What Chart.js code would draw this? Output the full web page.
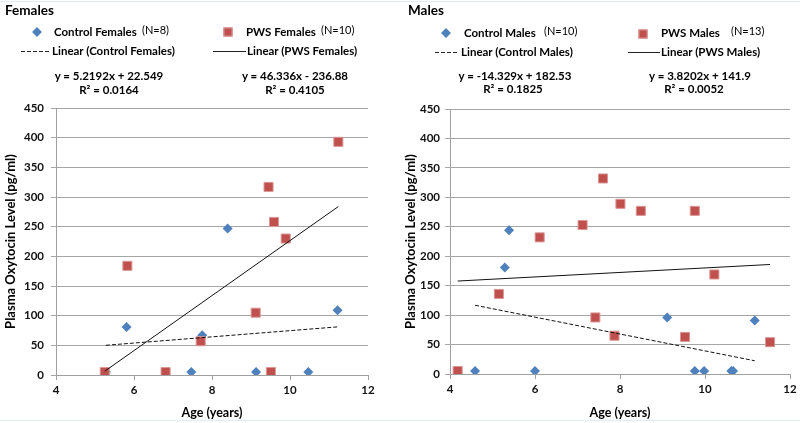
<!DOCTYPE html>
<html><head><meta charset="utf-8">
<script src="https://cdn.jsdelivr.net/npm/chart.js@4"></script>
<style>
html,body{margin:0;padding:0;background:#fff;}
#wrap{position:relative;width:800px;height:423px;overflow:hidden;font-family:Lato,"Open Sans",sans-serif;color:#000;}
.panel{position:absolute;top:0;width:400px;height:423px;}
.panel canvas{position:absolute;left:0;top:0;}
.t{position:absolute;white-space:nowrap;font-weight:bold;font-size:11.5px;line-height:14px;transform:translateY(-50%);}
.e{font-size:11.5px;}
.c{transform:translate(-50%,-50%);}
.n{font-weight:normal;font-size:11px;}
.ttl{font-size:13.5px;}
.dia{position:absolute;width:7px;height:7px;background:#4f81bd;transform:translate(-50%,-50%) rotate(45deg);}
.sq{position:absolute;width:9px;height:9px;background:#c0504d;transform:translate(-50%,-50%);box-sizing:border-box;border:1px solid #d99694;}
.dash{position:absolute;height:1px;background:repeating-linear-gradient(90deg,#222 0 4px,transparent 4px 6px);}
.solid{position:absolute;height:1px;background:#222;}
.bl{position:absolute;left:0;width:800px;height:1px;background:#e3eaf3;}
</style></head>
<body>
<div id="wrap">
  <div class="bl" style="top:1px"></div>
  <div class="bl" style="top:420px"></div>
  <div class="panel" style="left:0"><canvas id="cf" width="400" height="423"></canvas></div>
  <div class="panel" style="left:400px"><canvas id="cm" width="400" height="423"></canvas></div>

  <!-- Females annotations -->
  <div class="t ttl" style="left:5px;top:10px">Females</div>
  <div class="dia" style="left:37px;top:32px"></div>
  <div class="t" style="left:54px;top:32px">Control Females</div>
  <div class="t n" style="left:142px;top:30px">(N=8)</div>
  <div class="sq" style="left:228px;top:32px"></div>
  <div class="t" style="left:246px;top:32px">PWS Females</div>
  <div class="t n" style="left:321px;top:30px">(N=10)</div>
  <div class="dash" style="left:21px;top:51px;width:28px"></div>
  <div class="t" style="left:52px;top:51px">Linear (Control Females)</div>
  <div class="solid" style="left:213px;top:51px;width:33px"></div>
  <div class="t" style="left:247px;top:51px">Linear (PWS Females)</div>
  <div class="t e c" style="left:109px;top:76px">y = 5.2192x + 22.549</div>
  <div class="t e c" style="left:109px;top:90px">R² = 0.0164</div>
  <div class="t e c" style="left:295px;top:76px">y = 46.336x - 236.88</div>
  <div class="t e c" style="left:295px;top:90px">R² = 0.4105</div>

  <!-- Males annotations -->
  <div class="t ttl" style="left:408px;top:10px">Males</div>
  <div class="dia" style="left:446px;top:33px"></div>
  <div class="t" style="left:464px;top:33px">Control Males</div>
  <div class="t n" style="left:544px;top:31px">(N=10)</div>
  <div class="sq" style="left:643px;top:34px"></div>
  <div class="t" style="left:661px;top:33px">PWS Males</div>
  <div class="t n" style="left:731px;top:31px">(N=13)</div>
  <div class="dash" style="left:435px;top:52px;width:24px"></div>
  <div class="t" style="left:461px;top:52px">Linear (Control Males)</div>
  <div class="solid" style="left:628px;top:52px;width:32px"></div>
  <div class="t" style="left:661px;top:52px">Linear (PWS Males)</div>
  <div class="t e c" style="left:515px;top:76px">y = -14.329x + 182.53</div>
  <div class="t e c" style="left:513px;top:89px">R² = 0.1825</div>
  <div class="t e c" style="left:700px;top:76px">y = 3.8202x + 141.9</div>
  <div class="t e c" style="left:694px;top:89px">R² = 0.0052</div>
</div>
<script>
// ---- Data ----
const femaleControlAge = [5.28, 5.81, 7.47, 7.75, 8.40, 9.13, 10.47, 11.22];
const femaleControlOT  = [5, 81, 5, 67, 247, 5, 5, 109];
const femalePwsAge     = [5.25, 5.83, 6.81, 7.71, 9.12, 9.45, 9.51, 9.59, 9.89, 11.24];
const femalePwsOT      = [5, 184, 5, 57, 105, 317, 5, 258, 230, 393];
const femaleControlFit = [5.2192, 22.549];
const femalePwsFit     = [46.336, -236.88];

const maleControlAge = [4.59, 5.29, 5.39, 6.00, 9.11, 9.76, 9.98, 10.62, 10.66, 11.17];
const maleControlOT  = [5, 181, 244, 5, 96, 5, 5, 5, 5, 91];
const malePwsAge     = [4.18, 5.15, 6.11, 7.12, 7.42, 7.60, 7.87, 8.01, 8.49, 9.53, 9.76, 10.22, 11.53];
const malePwsOT      = [5, 136, 232, 253, 96, 332, 65, 289, 277, 63, 277, 169, 54];
const maleControlFit = [-14.329, 182.53];
const malePwsFit     = [3.8202, 141.9];

const xTicks = [4, 6, 8, 10, 12];
const yTicks = [0, 50, 100, 150, 200, 250, 300, 350, 400, 450];
const xTitle = 'Age (years)';
const yTitle = 'Plasma Oxytocin Level (pg/ml)';

// ---- Helpers ----
const pts = (xs, ys) => xs.map((x, i) => ({x: x, y: ys[i]}));
const fitLine = (xs, f) => [Math.min(...xs), Math.max(...xs)].map(x => ({x: x, y: f[0] * x + f[1]}));

Chart.defaults.font.family = 'Lato, "Open Sans", sans-serif';
Chart.defaults.color = '#111';

function makeChart(id, cAge, cOT, pAge, pOT, cFit, pFit, area, tickPad) {
  return new Chart(document.getElementById(id), {
    type: 'scatter',
    data: {
      datasets: [
        {data: pts(cAge, cOT), pointStyle: 'rectRot', pointRadius: 5, pointHoverRadius: 5,
         backgroundColor: '#4f81bd', borderColor: '#4f81bd', borderWidth: 0, order: 3},
        {data: pts(pAge, pOT), pointStyle: 'rect', pointRadius: 6.4, pointHoverRadius: 6.4,
         backgroundColor: '#c0504d', borderColor: '#d99694', borderWidth: 1, order: 2},
        {data: fitLine(cAge, cFit), showLine: true, pointRadius: 0, borderColor: '#111',
         borderWidth: 1, borderDash: [4, 2], order: 1},
        {data: fitLine(pAge, pFit), showLine: true, pointRadius: 0, borderColor: '#111',
         borderWidth: 1, order: 0}
      ]
    },
    options: {
      responsive: false, animation: false,
      layout: {padding: {left: 0, top: area.top, right: 400 - area.right, bottom: 0}},
      plugins: {legend: {display: false}, tooltip: {enabled: false}, title: {display: false}},
      scales: {
        x: {
          type: 'linear', min: xTicks[0], max: xTicks[xTicks.length - 1],
          afterBuildTicks: s => { s.ticks = xTicks.map(v => ({value: v})); },
          afterFit: s => { s.height = 423 - area.bottom; },
          grid: {drawOnChartArea: false, drawTicks: true, tickLength: 5, color: '#a0a0a0'},
          border: {color: '#a0a0a0'},
          ticks: {font: {size: 11.5, weight: 'bold'}, padding: 3, maxRotation: 0},
          title: {display: true, text: xTitle, font: {size: 12.5, weight: 'bold'}, color: '#000', padding: {top: 0, bottom: 3}}
        },
        y: {
          type: 'linear', min: yTicks[0], max: yTicks[yTicks.length - 1],
          afterBuildTicks: s => { s.ticks = yTicks.map(v => ({value: v})); },
          afterFit: s => { s.width = area.left; },
          grid: {color: '#a6a6a6', tickLength: 5, drawTicks: true},
          border: {color: '#a0a0a0'},
          ticks: {font: {size: 11.5, weight: 'bold'}, padding: tickPad},
          title: {display: true, text: yTitle, font: {size: 13, weight: 'bold'}, color: '#000', padding: {top: 3, bottom: 0}}
        }
      }
    }
  });
}

makeChart('cf', femaleControlAge, femaleControlOT, femalePwsAge, femalePwsOT,
          femaleControlFit, femalePwsFit, {left: 56, right: 368, top: 108, bottom: 375}, 7);
makeChart('cm', maleControlAge, maleControlOT, malePwsAge, malePwsOT,
          maleControlFit, malePwsFit, {left: 50, right: 390, top: 109, bottom: 374}, 5);
</script>
</body></html>
